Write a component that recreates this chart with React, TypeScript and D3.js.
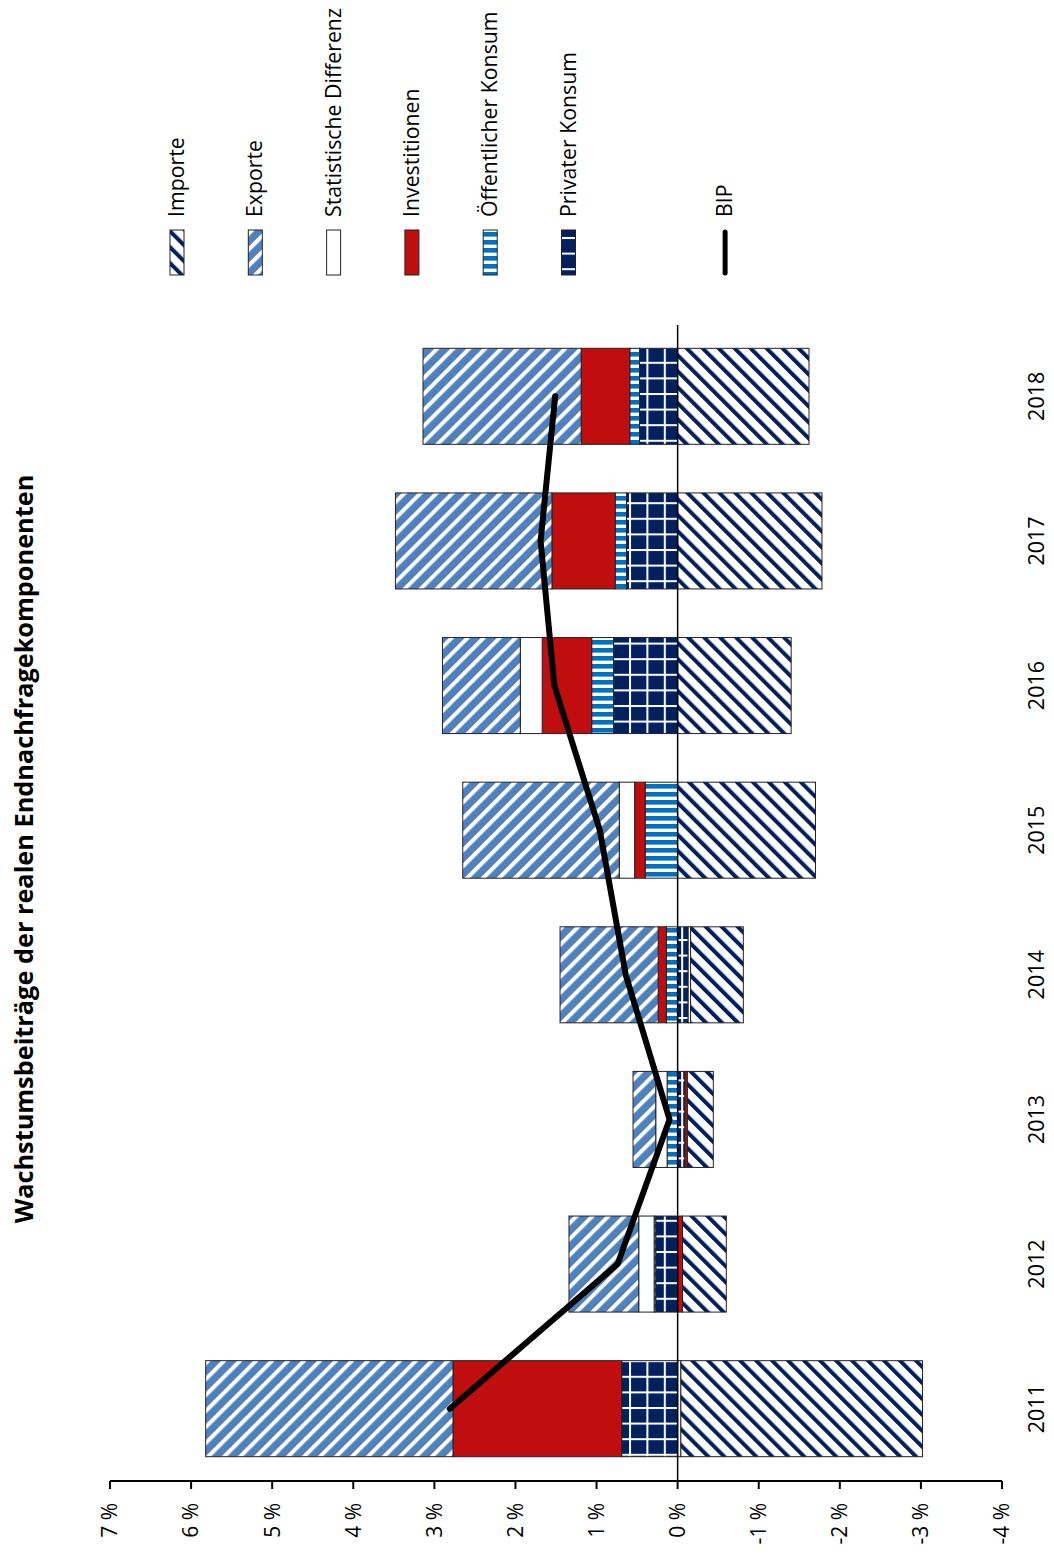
import React from "react";
import * as d3 from "d3";

const years = ["2011", "2012", "2013", "2014", "2015", "2016", "2017", "2018"];
const privaterKonsum = [0.69, 0.27, -0.09, -0.13, 0.0, 0.79, 0.63, 0.47];
const oeffentlicherKonsum = [0.0, 0.02, 0.13, 0.14, 0.4, 0.27, 0.14, 0.12];
const investitionen = [2.08, -0.06, -0.03, 0.1, 0.13, 0.61, 0.78, 0.6];
const statistischeDifferenz = [-0.04, 0.19, 0.14, -0.03, 0.19, 0.27, 0.0, 0.0];
const exporte = [3.05, 0.86, 0.28, 1.21, 1.93, 0.96, 1.93, 1.95];
const importe = [-2.98, -0.54, -0.32, -0.65, -1.7, -1.4, -1.78, -1.62];
const bip = [2.81, 0.74, 0.1, 0.64, 0.96, 1.52, 1.69, 1.51];

const valueTicks = [7, 6, 5, 4, 3, 2, 1, 0, -1, -2, -3, -4];

const seriesKeys = ["priv", "oeff", "inv", "stat", "exp", "imp"];
const seriesValues: Record<string, number[]> = {
  priv: privaterKonsum,
  oeff: oeffentlicherKonsum,
  inv: investitionen,
  stat: statistischeDifferenz,
  exp: exporte,
  imp: importe,
};
const fills: Record<string, string> = {
  priv: "url(#pPriv)",
  oeff: "url(#pOeff)",
  inv: "#c00d0d",
  stat: "#ffffff",
  exp: "url(#pExp)",
  imp: "url(#pImp)",
};
const legendItems = [
  { key: "imp", label: "Importe" },
  { key: "exp", label: "Exporte" },
  { key: "stat", label: "Statistische Differenz" },
  { key: "inv", label: "Investitionen" },
  { key: "oeff", label: "Öffentlicher Konsum" },
  { key: "priv", label: "Privater Konsum" },
  { key: null, label: "" },
  { key: "bip", label: "BIP" },
];

const NAVY = "#002060";
const FONT = "'Open Sans', 'DejaVu Sans', sans-serif";

export default function App() {
  const W = 1054;
  const H = 1555;
  const x = d3.scaleLinear().domain([7, -4]).range([110, 1002]);
  const y = d3
    .scaleBand<string>()
    .domain(years)
    .range([1481, 324])
    .paddingInner(0.336)
    .paddingOuter(0.168);
  const bw = y.bandwidth();

  const table = years.map((yr, i) => {
    const row: any = { year: yr };
    seriesKeys.forEach((k) => (row[k] = seriesValues[k][i]));
    return row;
  });
  const stacked = d3
    .stack<any>()
    .keys(seriesKeys)
    .offset(d3.stackOffsetDiverging)(table);

  const line = d3
    .line<number>()
    .x((d) => x(d))
    .y((_, i) => (y(years[i]) as number) + bw / 2);

  const legendStep = 78.3;
  const legendX0 = 170;

  return (
    <svg
      width={W}
      height={H}
      style={{ position: "absolute", left: 0, top: 0, display: "block", background: "#fff" }}
      fontFamily={FONT}
    >
      <defs>
        <pattern id="pImp" patternUnits="userSpaceOnUse" width={11.3} height={11.3} patternTransform="rotate(-45)">
          <rect width={11.3} height={11.3} fill="#fff" />
          <rect width={4} height={11.3} fill={NAVY} />
        </pattern>
        <pattern id="pExp" patternUnits="userSpaceOnUse" width={11.3} height={11.3} patternTransform="rotate(45)">
          <rect width={11.3} height={11.3} fill="#4f81bd" />
          <rect width={4} height={11.3} fill="#fff" />
        </pattern>
        <pattern id="pOeff" patternUnits="userSpaceOnUse" width={8} height={8}>
          <rect width={8} height={8} fill="#fff" />
          <rect width={8} height={4.6} fill="#0070c0" />
        </pattern>
        <pattern id="pPriv" patternUnits="userSpaceOnUse" width={17.4} height={15.6} x={2.6} y={3}>
          <rect width={17.4} height={15.6} fill={NAVY} />
          <rect x={0} y={0} width={2} height={15.6} fill="#fff" />
          <rect x={0} y={0} width={17.4} height={2} fill="#fff" />
        </pattern>
      </defs>

      {/* title */}
      <text
        transform={`translate(24,849) rotate(-90)`}
        textAnchor="middle"
        dy="0.35em"
        fontSize={25.3}
        fontWeight="bold"
      >
        Wachstumsbeiträge der realen Endnachfragekomponenten
      </text>

      {/* legend */}
      {legendItems.map((it, i) => {
        if (!it.key) return null;
        const lx = legendX0 + i * legendStep;
        return (
          <g key={i}>
            {it.key === "bip" ? (
              <line x1={lx + 7} x2={lx + 7} y1={232} y2={273} stroke="#000" strokeWidth={5} strokeLinecap="round" />
            ) : (
              <rect x={lx} y={230} width={14} height={45} fill={fills[it.key]} stroke="#222" strokeWidth={1} />
            )}
            <text transform={`translate(${lx + 14},217) rotate(-90)`} textAnchor="start" fontSize={21.3}>
              {it.label}
            </text>
          </g>
        );
      })}

      {/* bars */}
      {stacked.map((s) => (
        <g key={s.key}>
          {s.map((d, i) => {
            const v = seriesValues[s.key][i];
            if (Math.abs(v) < 0.001) return null;
            const x0 = x(d[0]);
            const x1 = x(d[1]);
            return (
              <rect
                key={i}
                x={Math.min(x0, x1)}
                width={Math.abs(x1 - x0)}
                y={y(years[i])}
                height={bw}
                fill={fills[s.key]}
                stroke="#222"
                strokeWidth={1}
              />
            );
          })}
        </g>
      ))}

      {/* zero line */}
      <line x1={x(0)} x2={x(0)} y1={325} y2={1481} stroke="#000" strokeWidth={1.5} />

      {/* BIP line */}
      <path d={line(bip) || ""} fill="none" stroke="#000" strokeWidth={6} strokeLinejoin="round" strokeLinecap="round" />

      {/* value axis */}
      <line x1={x(7)} x2={x(-4)} y1={1481} y2={1481} stroke="#000" strokeWidth={2} />
      {valueTicks.map((t) => (
        <g key={t}>
          <line x1={x(t)} x2={x(t)} y1={1481} y2={1489} stroke="#000" strokeWidth={2} />
          <text transform={`translate(${x(t)},1503) rotate(-90)`} textAnchor="end" dy="0.35em" fontSize={21}>
            {`${t} %`}
          </text>
        </g>
      ))}

      {/* category labels */}
      {years.map((yr) => (
        <text
          key={yr}
          transform={`translate(1036,${(y(yr) as number) + bw / 2}) rotate(-90)`}
          textAnchor="middle"
          dy="0.35em"
          fontSize={21.5}
        >
          {yr}
        </text>
      ))}
    </svg>
  );
}
